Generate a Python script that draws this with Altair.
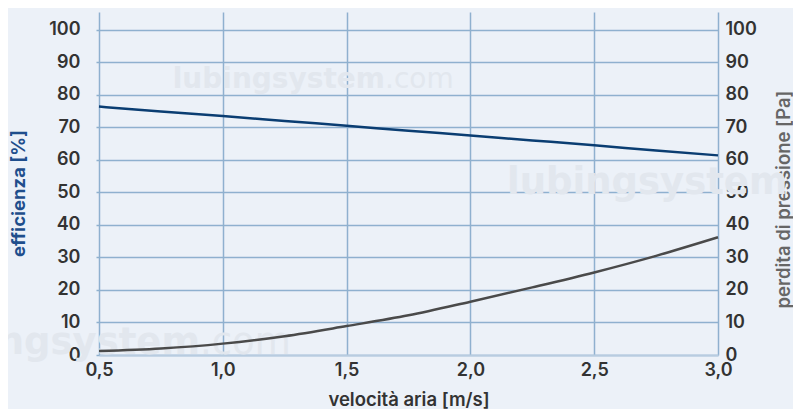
import altair as alt
import pandas as pd

speed = [0.5, 0.75, 1.0, 1.25, 1.5, 1.75, 2.0, 2.25, 2.5, 2.75, 3.0]
efficiency = [76.4, 74.9, 73.5, 72.0, 70.5, 69.0, 67.5, 66.0, 64.5, 62.9, 61.4]
pressure = [1.2, 2.0, 3.5, 5.8, 8.9, 12.2, 16.4, 20.8, 25.4, 30.5, 36.2]
x_ticks = [0.5, 1.0, 1.5, 2.0, 2.5, 3.0]
y_ticks = [0, 10, 20, 30, 40, 50, 60, 70, 80, 90, 100]

df = pd.DataFrame({"speed": speed, "efficiency": efficiency, "pressure": pressure})

FONT = "Inter"
WM_FONT = "DejaVu Sans"
BG = "#ecf1f8"
GRID = "#8fb0cf"
LBL = 18
TTL = 18.5

x_enc = alt.X(
    "speed:Q",
    scale=alt.Scale(domain=[0.5, 3.0], nice=False, zero=False),
    axis=alt.Axis(
        values=x_ticks,
        labelExpr="replace(format(datum.value, '.1f'), '.', ',')",
        title="velocità aria [m/s]",
        grid=True,
        gridColor=GRID,
        gridWidth=1.5,
        domainColor="#b8cce0",
        domainWidth=2,
        ticks=False,
        labelPadding=6,
        labelFontSize=LBL,
        labelFont=FONT,
        labelFontWeight=600,
        labelColor="#333333",
        labelFlush=False,
        titleFont=FONT,
        titleFontSize=TTL,
        titleFontWeight=600,
        titleColor="#333333",
        titleBaseline="bottom",
        titleY=54,
    ),
)

eff = alt.Chart(df).mark_line(color="#0a3d72", strokeWidth=2.5, interpolate="monotone").encode(
    x=x_enc,
    y=alt.Y(
        "efficiency:Q",
        scale=alt.Scale(domain=[0, 105.5], nice=False),
        axis=alt.Axis(
            values=y_ticks,
            orient="left",
            title="efficienza [%]",
            grid=True,
            gridColor=GRID,
            gridWidth=1.5,
            domain=False,
            ticks=True,
            tickColor=GRID,
            tickSize=3,
            tickWidth=1.5,
            labelPadding=16,
            labelFontSize=LBL,
            labelFont=FONT,
            labelFontWeight=600,
            labelColor="#333333",
            titleFont=FONT,
            titleFontSize=TTL,
            titleFontWeight="bold",
            titleColor="#1f4e8c",
            titleAngle=270,
            titleBaseline="middle",
            titleX=-81,
            titleY=181,
        ),
    ),
)

prs = alt.Chart(df).mark_line(color="#4a4a4a", strokeWidth=2.5, interpolate="monotone").encode(
    x=x_enc,
    y=alt.Y(
        "pressure:Q",
        scale=alt.Scale(domain=[0, 105.5], nice=False),
        axis=alt.Axis(
            values=y_ticks,
            orient="right",
            title="perdita di pressione [Pa]",
            grid=False,
            domain=False,
            ticks=False,
            labelPadding=7,
            labelFontSize=LBL,
            labelFont=FONT,
            labelFontWeight=600,
            labelColor="#333333",
            titleFont=FONT,
            titleFontSize=TTL,
            titleFontWeight=600,
            titleColor="#666666",
            titleAngle=270,
            titleBaseline="middle",
            titleX=65,
            titleY=187,
        ),
    ),
)

wm_color = "#e2e7ee"
wm_df = pd.DataFrame({"a": [0]})
def wm(text, x, y, size, weight, align):
    return alt.Chart(wm_df).mark_text(
        text=text, align=align, baseline="middle", font=WM_FONT, fontSize=size,
        fontWeight=weight, color=wm_color,
    ).encode(x=alt.value(x), y=alt.value(y))

watermarks = (
    wm("lubingsystem", 286, 68, 28, "bold", "right")
    + wm(".com", 286, 68, 28, "normal", "left")
    + wm("lubingsystem", 408, 171, 37, "bold", "left")
    + wm("lubingsystem", 101, 331, 37, "bold", "right")
    + wm(".com", 101, 331, 37, "normal", "left")
)

chart = (
    alt.layer(watermarks, eff, prs)
    .resolve_scale(y="independent")
    .properties(
        width=619,
        height=343,
        autosize=alt.AutoSizeParams(type="none"),
        background=BG,
        padding={"left": 91, "top": 4, "right": 75, "bottom": 54},
    )
    .configure_view(stroke=None)
)

chart.save("out.html", embed_options={"renderer": "svg", "actions": False})
